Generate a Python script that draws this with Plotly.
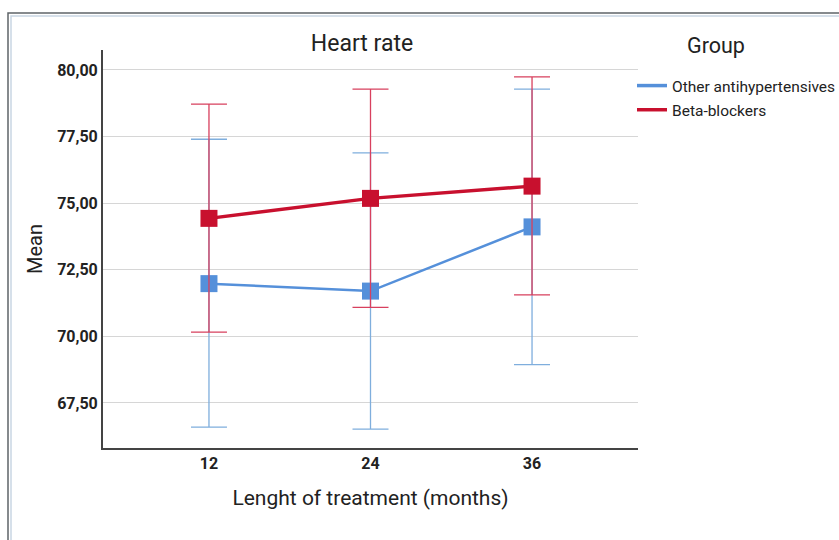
import plotly.graph_objects as go

months = ["12", "24", "36"]
other_mean = [71.98, 71.70, 74.11]
other_upper = [77.40, 76.89, 79.28]
other_lower = [66.59, 66.52, 68.94]
beta_mean = [74.43, 75.18, 75.64]
beta_upper = [78.72, 79.28, 79.74]
beta_lower = [70.16, 71.09, 71.56]
y_ticks = [67.5, 70.0, 72.5, 75.0, 77.5, 80.0]

BLUE = "#5590DA"
BLUE_ERR = "#7FAEDD"
RED = "#C8102E"
RED_ERR = "#D8405E"
FONT = "Roboto"
TICKFONT = "Liberation Sans Narrow, Roboto"

fig = go.Figure()

def add_series(name, mean, upper, lower, color, ecolor, lw):
    fig.add_trace(go.Scatter(
        x=months, y=mean, mode="lines+markers", name=name, showlegend=False,
        line=dict(color=color, width=lw),
        marker=dict(symbol="square", size=17, color=color),
        error_y=dict(type="data", symmetric=False,
                     array=[u - m for u, m in zip(upper, mean)],
                     arrayminus=[m - l for m, l in zip(mean, lower)],
                     color=ecolor, thickness=1.3, width=18),
    ))

add_series("Other antihypertensives", other_mean, other_upper, other_lower, BLUE, BLUE_ERR, 2.5)
add_series("Beta-blockers", beta_mean, beta_upper, beta_lower, RED, RED_ERR, 3.4)

# legend entries (line only)
for i, (name, color) in enumerate([("Other antihypertensives", BLUE), ("Beta-blockers", RED)]):
    fig.add_trace(go.Scatter(x=[None], y=[None], mode="lines", name=name,
                             legendgroup=str(i),
                             line=dict(color=color, width=3.5)))

fig.update_layout(
    width=839, height=540,
    margin=dict(l=103, r=201, t=50, b=92, autoexpand=False),
    paper_bgcolor="white", plot_bgcolor="white",
    separators=", ",
    font=dict(family=FONT, color="#222"),
    title=dict(text="Heart rate", x=(362 - 103) / 535, xref="paper", xanchor="center",
               y=1 - 43 / 540, yanchor="middle", font=dict(size=23, color="#222")),
    xaxis=dict(range=[-0.656, 2.656], showgrid=False, ticks="",
               showline=True, linecolor="#444", linewidth=2,
               tickfont=dict(family=TICKFONT, size=16, color="#222", weight="bold"),
               title=dict(text="Lenght of treatment (months)", font=dict(size=21, color="#222"),
                          standoff=18)),
    yaxis=dict(range=[65.81, 80.75], tickvals=y_ticks, tickformat=".2f",
               showgrid=True, gridcolor="#d6d6d6", gridwidth=1,
               zeroline=False, ticks="",
               showline=True, linecolor="#444", linewidth=2,
               tickfont=dict(family=TICKFONT, size=16, color="#222", weight="bold"),
               title=dict(text="Mean", font=dict(size=20, color="#222"), standoff=9)),
    legend=dict(x=(632 - 103) / 535, xanchor="left", y=(448 - 69) / 398, yanchor="top",
                font=dict(size=15.5, color="#222"), itemwidth=30,
                tracegroupgap=1, traceorder="grouped",
                bgcolor="rgba(0,0,0,0)"),
    annotations=[dict(text="Group", xref="paper", yref="paper",
                      x=(716 - 103) / 535, y=(448 - 45) / 398,
                      xanchor="center", yanchor="middle", showarrow=False,
                      font=dict(size=21.5, color="#222"))],
    shapes=[
        dict(type="rect", xref="paper", yref="paper",
             x0=(8 - 103) / 535, x1=(860 - 103) / 535,
             y0=(448 - 560) / 398, y1=(448 - 13) / 398,
             line=dict(color="#5f6468", width=1.5), layer="below"),
        dict(type="rect", xref="paper", yref="paper",
             x0=(11 - 103) / 535, x1=(860 - 103) / 535,
             y0=(448 - 560) / 398, y1=(448 - 16) / 398,
             line=dict(color="#c9d6e3", width=1.5), layer="below"),
    ],
)

fig.write_html("out.html", config={"displayModeBar": False},
               post_script="document.body.style.margin='0px';")
